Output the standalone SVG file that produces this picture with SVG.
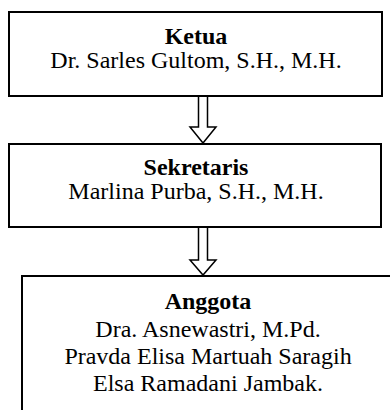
<svg xmlns="http://www.w3.org/2000/svg" width="390" height="410" viewBox="0 0 390 410">
<style>
.box{fill:#fff;stroke:#000;stroke-width:2}
.arr{fill:#fff;stroke:#000;stroke-width:1.5;stroke-linejoin:miter}
text{font-family:"Liberation Serif","Times New Roman",serif;font-size:24px;fill:#000;text-anchor:middle}
.b{font-weight:bold}
</style>
<g id="connectors">
<path class="arr" d="M198.5,96 V127 H190 L203,143 L216,127 H207.5 V96"/>
<path class="arr" d="M198.5,228 V260 H190 L203,275 L216,260 H207.5 V228"/>
</g>
<g id="ketua">
<rect class="box" x="9" y="12" width="373" height="84"/>
<text class="b" x="196" y="44">Ketua</text>
<text x="196" y="68">Dr. Sarles Gultom, S.H., M.H.</text>
</g>
<g id="sekretaris">
<rect class="box" x="9" y="144" width="372" height="83"/>
<text class="b" x="196" y="175">Sekretaris</text>
<text x="196" y="199">Marlina Purba, S.H., M.H.</text>
</g>
<g id="anggota">
<rect class="box" x="22" y="276" width="380" height="150"/>
<text class="b" x="208" y="309">Anggota</text>
<text x="208" y="337">Dra. Asnewastri, M.Pd.</text>
<text x="208" y="364">Pravda Elisa Martuah Saragih</text>
<text x="208" y="391">Elsa Ramadani Jambak.</text>
</g>
</svg>
